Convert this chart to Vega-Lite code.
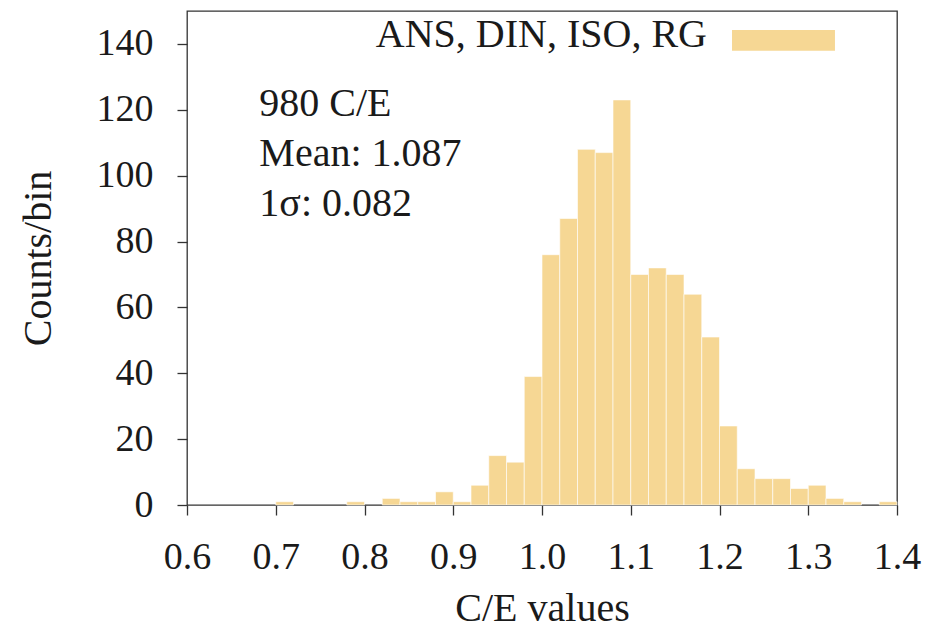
{
  "$schema": "https://vega.github.io/schema/vega-lite/v6.json",
  "width": 710,
  "height": 494,
  "autosize": {"type": "none"},
  "padding": {"left": 187, "top": 11, "right": 36, "bottom": 126},
  "background": "white",
  "config": {
    "view": {"stroke": "#333333", "strokeWidth": 1.3},
    "font": "Liberation Serif",
    "axis": {
      "domain": false,
      "grid": false,
      "tickColor": "#333333",
      "tickSize": 10,
      "tickWidth": 1.3,
      "labelFont": "Liberation Serif",
      "labelFontSize": 38,
      "labelColor": "#1a1a1a",
      "titleFont": "Liberation Serif",
      "titleFontSize": 40,
      "titleFontWeight": "normal",
      "titleColor": "#1a1a1a"
    }
  },
  "datasets": {
    "bins": [
      {"lo": 0.70, "hi": 0.72, "count": 1},
      {"lo": 0.78, "hi": 0.80, "count": 1},
      {"lo": 0.82, "hi": 0.84, "count": 2},
      {"lo": 0.84, "hi": 0.86, "count": 1},
      {"lo": 0.86, "hi": 0.88, "count": 1},
      {"lo": 0.88, "hi": 0.90, "count": 4},
      {"lo": 0.90, "hi": 0.92, "count": 1},
      {"lo": 0.92, "hi": 0.94, "count": 6},
      {"lo": 0.94, "hi": 0.96, "count": 15},
      {"lo": 0.96, "hi": 0.98, "count": 13},
      {"lo": 0.98, "hi": 1.00, "count": 39},
      {"lo": 1.00, "hi": 1.02, "count": 76},
      {"lo": 1.02, "hi": 1.04, "count": 87},
      {"lo": 1.04, "hi": 1.06, "count": 108},
      {"lo": 1.06, "hi": 1.08, "count": 107},
      {"lo": 1.08, "hi": 1.10, "count": 123},
      {"lo": 1.10, "hi": 1.12, "count": 70},
      {"lo": 1.12, "hi": 1.14, "count": 72},
      {"lo": 1.14, "hi": 1.16, "count": 70},
      {"lo": 1.16, "hi": 1.18, "count": 64},
      {"lo": 1.18, "hi": 1.20, "count": 51},
      {"lo": 1.20, "hi": 1.22, "count": 24},
      {"lo": 1.22, "hi": 1.24, "count": 11},
      {"lo": 1.24, "hi": 1.26, "count": 8},
      {"lo": 1.26, "hi": 1.28, "count": 8},
      {"lo": 1.28, "hi": 1.30, "count": 5},
      {"lo": 1.30, "hi": 1.32, "count": 6},
      {"lo": 1.32, "hi": 1.34, "count": 2},
      {"lo": 1.34, "hi": 1.36, "count": 1},
      {"lo": 1.38, "hi": 1.40, "count": 1}
    ],
    "notes": [
      {"label": "980 C/E", "x": 0.6815, "y": 118.1},
      {"label": "Mean: 1.087", "x": 0.6815, "y": 102.9},
      {"label": "1σ: 0.082", "x": 0.6815, "y": 87.8}
    ],
    "legendText": [
      {"label": "ANS, DIN, ISO, RG", "x": 1.1859, "y": 139.2}
    ],
    "legendSwatch": [
      {"x1": 1.2141, "x2": 1.3301, "y1": 137.95, "y2": 144.2}
    ]
  },
  "layer": [
    {
      "data": {"name": "bins"},
      "mark": {"type": "rect", "color": "#F6D794", "stroke": "white", "strokeWidth": 0.6},
      "encoding": {
        "x": {
          "field": "lo",
          "type": "quantitative",
          "scale": {"domain": [0.6, 1.4], "nice": false, "zero": false},
          "axis": {
            "title": "C/E values",
            "values": [0.6, 0.7, 0.8, 0.9, 1.0, 1.1, 1.2, 1.3, 1.4],
            "format": ".1f",
            "labelPadding": 23,
            "titlePadding": 12,
            "labelFlush": false,
            "labelOverlap": false
          }
        },
        "x2": {"field": "hi"},
        "y": {
          "field": "count",
          "type": "quantitative",
          "scale": {"domain": [0, 150], "nice": false},
          "axis": {
            "title": "Counts/bin",
            "values": [0, 20, 40, 60, 80, 100, 120, 140],
            "labelPadding": 24,
            "titlePadding": 38,
            "labelFlush": false,
            "labelOverlap": false
          }
        },
        "y2": {"datum": 0}
      }
    },
    {
      "data": {"name": "notes"},
      "mark": {"type": "text", "align": "left", "baseline": "alphabetic", "fontSize": 40, "font": "Liberation Serif", "color": "#1a1a1a"},
      "encoding": {
        "x": {"field": "x", "type": "quantitative"},
        "y": {"field": "y", "type": "quantitative"},
        "text": {"field": "label"}
      }
    },
    {
      "data": {"name": "legendText"},
      "mark": {"type": "text", "align": "right", "baseline": "alphabetic", "fontSize": 40, "font": "Liberation Serif", "color": "#1a1a1a"},
      "encoding": {
        "x": {"field": "x", "type": "quantitative"},
        "y": {"field": "y", "type": "quantitative"},
        "text": {"field": "label"}
      }
    },
    {
      "data": {"name": "legendSwatch"},
      "mark": {"type": "rect", "color": "#F6D794"},
      "encoding": {
        "x": {"field": "x1", "type": "quantitative"},
        "x2": {"field": "x2"},
        "y": {"field": "y1", "type": "quantitative"},
        "y2": {"field": "y2"}
      }
    }
  ]
}
